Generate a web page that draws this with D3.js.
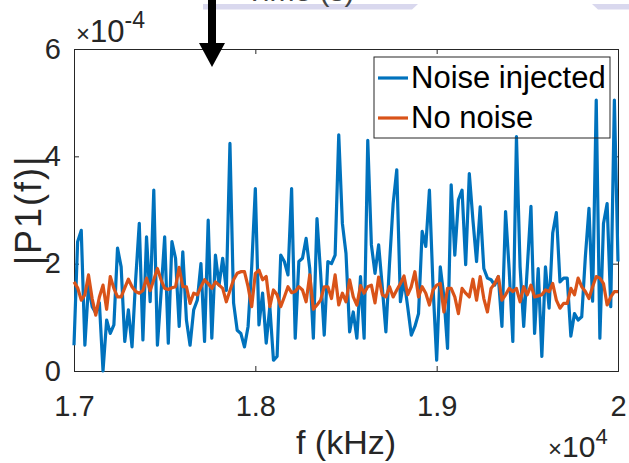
<!DOCTYPE html>
<html>
<head>
<meta charset="utf-8">
<script src="https://cdn.jsdelivr.net/npm/d3@7"></script>
<style>
  body { margin: 0; background: #fff; }
  text { font-family: "Liberation Sans", Arial, sans-serif; }
</style>
</head>
<body>
<div class="chart"></div>
<script>
const width = 629;
const height = 463;

// frequency axis in units of 1e4 Hz, one sample every 20 Hz
const freqs = d3.range(151).map((i) => 1.7 + i * 0.002);

// |P1(f)| in units of 1e-4
const noiseInjected = [
  0.48, 2.41, 2.62, 0.48, 1.6, 1.2, 1.08, 1.27, 0.0, 0.95,
  0.7, 0.86, 2.29, 1.94, 0.55, 1.14, 0.45, 1.7, 2.75, 0.58,
  2.5, 1.29, 3.37, 0.48, 1.45, 2.5, 0.52, 2.41, 2.1, 0.83,
  2.22, 0.95, 0.48, 1.14, 1.32, 2.0, 0.55, 2.81, 0.61, 2.16,
  1.6, 2.1, 1.5, 4.24, 1.27, 0.76, 0.7, 0.45, 0.83, 1.94,
  3.4, 0.86, 1.45, 0.52, 1.2, 0.2, 0.27, 2.16, 2.04, 1.79,
  3.4, 0.61, 2.04, 2.1, 2.47, 1.91, 0.61, 2.84, 1.82, 0.67,
  2.04, 2.0, 2.16, 4.4, 2.75, 2.19, 0.73, 1.1, 0.61, 1.76,
  0.61, 4.3, 2.35, 1.82, 2.35, 1.57, 0.73, 2.0, 3.12, 3.75,
  1.29, 1.7, 1.2, 0.67, 0.83, 1.07, 2.6, 2.32, 3.37, 1.57,
  0.2, 1.94, 1.38, 0.42, 3.47, 2.16, 3.19, 3.37, 1.98, 3.68,
  2.81, 2.04, 3.06, 1.91, 1.73, 1.7, 1.6, 1.76, 0.83, 2.97,
  1.88, 0.55, 4.37, 1.94, 0.83, 1.94, 3.07, 0.7, 1.91, 0.27,
  1.94, 1.17, 2.57, 2.95, 1.66, 1.73, 1.73, 0.65, 1.07, 0.95,
  1.01, 2.13, 3.03, 1.3, 5.05, 0.61, 2.75, 3.12, 1.2, 5.05,
  2.04
];

const noNoise = [
  1.66, 1.55, 1.32, 1.42, 1.79, 1.35, 1.04, 1.38, 1.6, 1.15,
  1.76, 1.54, 1.38, 1.38, 1.55, 1.71, 1.57, 1.48, 1.45, 1.5,
  1.73, 1.5, 1.7, 1.91, 1.7, 1.54, 1.52, 1.55, 1.57, 1.93,
  1.57, 1.57, 1.26, 1.45, 1.42, 1.57, 1.7, 1.63, 1.54, 1.66,
  1.6, 1.54, 1.29, 1.5, 1.7, 1.82, 1.85, 1.85, 1.57, 1.2,
  1.82, 1.88, 1.7, 1.76, 1.2, 1.51, 1.42, 1.2, 1.38, 1.57,
  1.46, 1.48, 1.57, 1.51, 1.29, 1.79, 1.15, 1.23, 1.32, 1.57,
  1.57, 1.35, 1.79, 1.23, 1.45, 1.29, 1.7, 1.38, 1.23, 1.59,
  1.45, 1.57, 1.6, 1.27, 1.75, 1.42, 1.38, 1.57, 1.38, 1.51,
  1.63, 1.77, 1.42, 1.57, 1.85, 1.38, 1.57, 1.45, 1.23, 1.51,
  1.6, 1.63, 1.1, 1.54, 1.54, 1.38, 1.07, 1.54, 1.45, 1.38,
  1.71, 1.32, 1.76, 1.35, 1.1, 1.54, 1.63, 1.76, 1.32, 1.42,
  1.54, 1.48, 1.54, 1.29, 1.57, 1.42, 1.6, 1.38, 1.4, 1.42,
  1.51, 1.48, 1.63, 1.32, 1.17, 1.26, 1.26, 1.54, 1.42, 1.73,
  1.57, 1.48, 1.35, 1.57, 1.76, 1.73, 1.63, 1.23, 1.38, 1.48,
  1.48
];

const xTicks = [1.7, 1.8, 1.9, 2];
const yTicks = [0, 2, 4, 6];
const seriesNames = ["Noise injected", "No noise"];
const seriesColors = ["#0072BD", "#D95319"];

const margin = { top: 49, right: 11, bottom: 92, left: 74 };
const axisColor = "#262626";

const svg = d3
  .select(".chart")
  .append("svg")
  .attr("width", width)
  .attr("height", height);

// bit of the figure above this panel (cut off at the top)
svg.append("polygon")
  .attr("points", "203,4 418,4 412,9.5 203,9.5")
  .attr("fill", "#d9d8ee");
svg.append("polygon")
  .attr("points", "592,4 629,4 629,9.5 598,9.5")
  .attr("fill", "#d9d8ee");
svg.append("text")
  .attr("x", 300)
  .attr("y", 0.5)
  .attr("text-anchor", "middle")
  .attr("font-size", 30)
  .attr("fill", "#444")
  .text("Time (s)");

const x = d3.scaleLinear().domain([1.7, 2]).range([margin.left, width - margin.right]);
const y = d3.scaleLinear().domain([0, 6]).range([height - margin.bottom, margin.top]);

// axes, ticks pointing inward like MATLAB
const fmt = (d) => String(+d.toFixed(1));
const xAxis = svg.append("g")
  .attr("transform", `translate(0,${y(0)})`)
  .call(d3.axisBottom(x).tickValues(xTicks).tickSize(-5).tickPadding(24).tickFormat(fmt));
const xTop = svg.append("g")
  .attr("transform", `translate(0,${y(6)})`)
  .call(d3.axisTop(x).tickValues(xTicks).tickSize(-5).tickFormat(""));
const yAxis = svg.append("g")
  .attr("transform", `translate(${x(1.7)},0)`)
  .call(d3.axisLeft(y).tickValues(yTicks).tickSize(-5).tickPadding(13).tickFormat(fmt));
const yRight = svg.append("g")
  .attr("transform", `translate(${x(2)},0)`)
  .call(d3.axisRight(y).tickValues(yTicks).tickSize(-5).tickFormat(""));

[xAxis, xTop, yAxis, yRight].forEach((g) => {
  g.select(".domain").attr("stroke", axisColor);
  g.selectAll(".tick line").attr("stroke", axisColor);
  g.selectAll("text")
    .attr("font-size", 29)
    .attr("font-family", "Liberation Sans, Arial, sans-serif")
    .attr("fill", axisColor);
});

// lines
const line = d3.line()
  .x((d, i) => x(freqs[i]))
  .y((d) => y(d));

svg.append("path")
  .datum(noiseInjected)
  .attr("fill", "none")
  .attr("stroke", seriesColors[0])
  .attr("stroke-width", 3.2)
  .attr("stroke-linejoin", "round")
  .attr("d", line);

svg.append("path")
  .datum(noNoise)
  .attr("fill", "none")
  .attr("stroke", seriesColors[1])
  .attr("stroke-width", 3.2)
  .attr("stroke-linejoin", "round")
  .attr("d", line);

// exponent labels
svg.append("text")
  .attr("x", 76)
  .attr("y", 42)
  .attr("font-size", 31)
  .attr("fill", axisColor)
  .html('<tspan font-size="24">×</tspan>10<tspan dy="-14" font-size="23">-4</tspan>');

svg.append("text")
  .attr("x", 548)
  .attr("y", 457)
  .attr("font-size", 30)
  .attr("fill", axisColor)
  .html('<tspan font-size="24">×</tspan>10<tspan dy="-13" font-size="22">4</tspan>');

// axis labels
svg.append("text")
  .attr("x", x(1.85))
  .attr("y", 454)
  .attr("text-anchor", "middle")
  .attr("font-size", 34)
  .attr("fill", axisColor)
  .text("f (kHz)");

svg.append("text")
  .attr("transform", `translate(41,${y(3)}) rotate(-90)`)
  .attr("text-anchor", "middle")
  .attr("font-size", 36)
  .attr("letter-spacing", 2)
  .attr("fill", axisColor)
  .text("|P1(f)|");

// legend
const legend = svg.append("g");
legend.append("rect")
  .attr("x", 374)
  .attr("y", 57)
  .attr("width", 236)
  .attr("height", 81)
  .attr("fill", "none")
  .attr("stroke", axisColor);

seriesNames.forEach((name, i) => {
  const ly = 78 + i * 40;
  legend.append("line")
    .attr("x1", 378).attr("x2", 408)
    .attr("y1", ly).attr("y2", ly)
    .attr("stroke", seriesColors[i])
    .attr("stroke-width", 3.2);
  legend.append("text")
    .attr("x", 411)
    .attr("y", ly + 10)
    .attr("font-size", 31)
    .attr("fill", "#000")
    .text(name);
});

// arrow pointing down into the plot
svg.append("rect")
  .attr("x", 208)
  .attr("y", 0)
  .attr("width", 8)
  .attr("height", 44)
  .attr("fill", "#000");
svg.append("polygon")
  .attr("points", "199,43 225,43 212,67")
  .attr("fill", "#000");
</script>
</body>
</html>
